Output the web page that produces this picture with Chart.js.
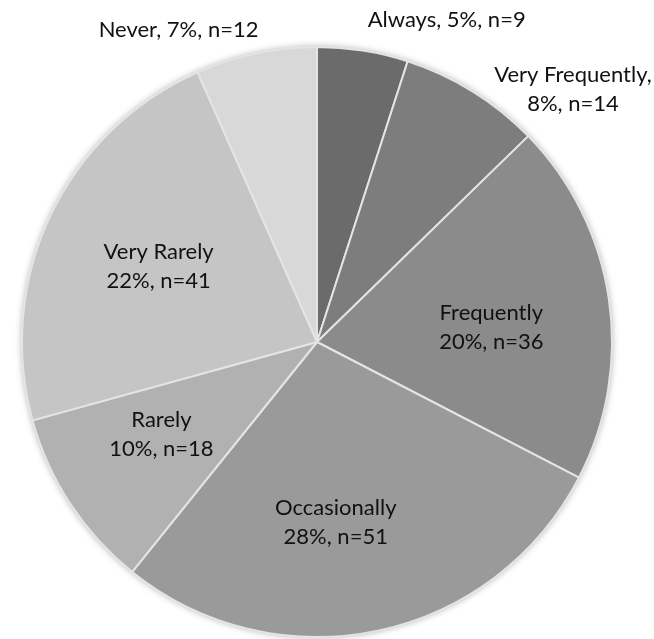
<!DOCTYPE html>
<html>
<head>
<meta charset="utf-8">
<script src="https://cdn.jsdelivr.net/npm/chart.js@4.4.1/dist/chart.umd.min.js"></script>
<style>
  html, body { margin: 0; padding: 0; background: #ffffff; }
  #wrap { width: 654px; height: 639px; position: relative; }
</style>
</head>
<body>
<div id="wrap"><canvas id="chart" width="654" height="639"></canvas></div>
<script>
// Response frequency categories, clockwise from 12 o'clock
const categories = ['Always', 'Very Frequently', 'Frequently', 'Occasionally', 'Rarely', 'Very Rarely', 'Never'];
// Respondent counts per category
const counts = [9, 14, 36, 51, 18, 41, 12];
// Percentages as printed on the labels
const percents = [5, 8, 20, 28, 10, 22, 7];

// Grey ramp, darkest for the most frequent answer
const sliceColors = ['#6b6b6b', '#7d7d7d', '#8b8b8b', '#9a9a9a', '#b1b1b1', '#c5c5c5', '#d8d8d8'];

// Label placement: radius as a fraction of the pie radius, angular nudge in degrees,
// and whether the label sits on one line or two
const labelPlace = [
  { r: 1.176, shift: 13.0, oneLine: true },
  { r: 1.218, shift: 13.6, oneLine: false, comma: true },
  { r: 0.593, shift: 3.6 },
  { r: 0.615, shift: 6.0 },
  { r: 0.614, shift: 2.5 },
  { r: 0.595, shift: 0.2 },
  { r: 1.157, shift: -12.0, oneLine: true }
];

const FONT = '22px Lato, "Open Sans", sans-serif';

function labelLines(i) {
  const p = labelPlace[i];
  const tail = percents[i] + '%, n=' + counts[i];
  if (p.oneLine) return [categories[i] + ', ' + tail];
  if (p.comma) return [categories[i] + ',', tail];
  return [categories[i], tail];
}

// Soft grey halo around the pie edge
const pieShadow = {
  id: 'pieShadow',
  beforeDatasetsDraw(chart) {
    const arc = chart.getDatasetMeta(0).data[0];
    if (!arc) return;
    const { x, y, outerRadius } = arc.getProps(['x', 'y', 'outerRadius'], true);
    const ctx = chart.ctx;
    ctx.save();
    ctx.shadowColor = 'rgba(0,0,0,0.35)';
    ctx.shadowBlur = 7;
    ctx.fillStyle = '#9a9a9a';
    ctx.beginPath();
    ctx.arc(x, y, outerRadius, 0, Math.PI * 2);
    ctx.fill();
    ctx.restore();
  }
};

// Category labels drawn at positions derived from each slice's geometry
const sliceLabels = {
  id: 'sliceLabels',
  afterDatasetsDraw(chart) {
    const ctx = chart.ctx;
    const meta = chart.getDatasetMeta(0);
    ctx.save();
    ctx.font = FONT;
    ctx.fillStyle = '#111111';
    ctx.textAlign = 'center';
    ctx.textBaseline = 'middle';
    const lineH = 29;
    meta.data.forEach((arc, i) => {
      const { x, y, startAngle, endAngle, outerRadius } =
        arc.getProps(['x', 'y', 'startAngle', 'endAngle', 'outerRadius'], true);
      const p = labelPlace[i];
      const a = (startAngle + endAngle) / 2 + p.shift * Math.PI / 180;
      const cx = x + Math.cos(a) * outerRadius * p.r;
      const cy = y + Math.sin(a) * outerRadius * p.r;
      const lines = labelLines(i);
      const top = cy - (lines.length - 1) * lineH / 2;
      lines.forEach((t, k) => ctx.fillText(t, cx, top + k * lineH));
    });
    ctx.restore();
  }
};

new Chart(document.getElementById('chart'), {
  type: 'pie',
  data: {
    labels: categories,
    datasets: [{
      data: counts,
      backgroundColor: sliceColors,
      borderColor: '#e4e4e4',
      borderWidth: 2,
      hoverOffset: 0
    }]
  },
  options: {
    responsive: false,
    animation: false,
    layout: { padding: { left: 21, right: 41, top: 46, bottom: 1 } },
    plugins: {
      legend: { display: false },
      tooltip: { enabled: false }
    }
  },
  plugins: [pieShadow, sliceLabels]
});
</script>
</body>
</html>
